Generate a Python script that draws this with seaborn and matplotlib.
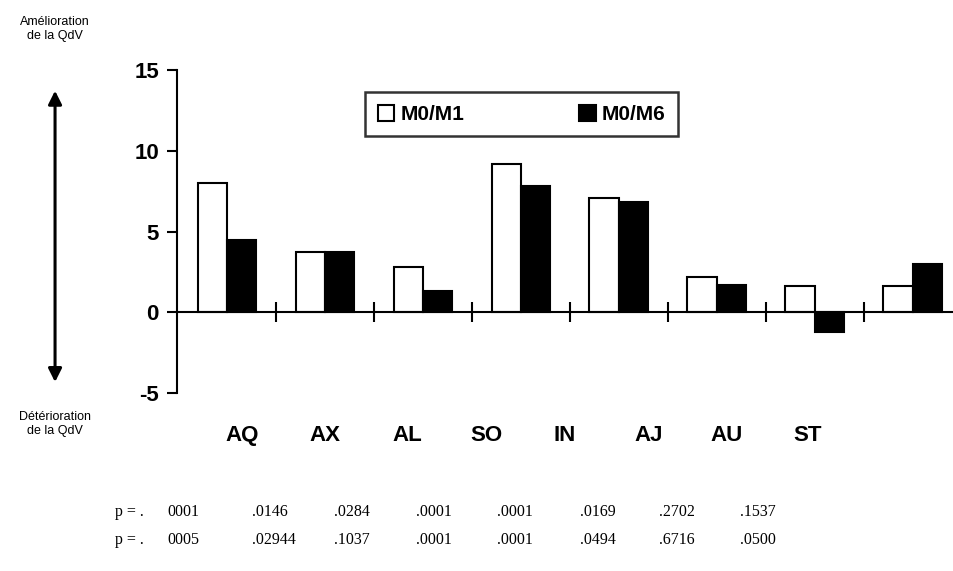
import numpy as np
import pandas as pd
import matplotlib
matplotlib.use('Agg')
import matplotlib.pyplot as plt
import seaborn as sns

# data
categories = ['AQ', 'AX', 'AL', 'SO', 'IN', 'AJ', 'AU', 'ST']
m0_m1 = [8.0, 3.75, 2.8, 9.2, 7.1, 2.2, 1.6, 1.6]
m0_m6 = [4.5, 3.75, 1.3, 7.8, 6.8, 1.7, -1.2, 3.0]
series = ['M0/M1', 'M0/M6']
p_row1 = ['0001', '.0146', '.0284', '.0001', '.0001', '.0169', '.2702', '.1537']
p_row2 = ['0005', '.02944', '.1037', '.0001', '.0001', '.0494', '.6716', '.0500']
y_ticks = [-5, 0, 5, 10, 15]

df = pd.DataFrame({
    'cat': categories * 2,
    'val': m0_m1 + m0_m6,
    'serie': [series[0]] * 8 + [series[1]] * 8,
})

sns.set_theme(style='ticks')
plt.rcParams['font.family'] = ['Liberation Sans', 'DejaVu Sans']
plt.rcParams['text.color'] = 'black'
plt.rcParams['xtick.color'] = 'black'
plt.rcParams['ytick.color'] = 'black'

bold_font = ['Liberation Sans', 'DejaVu Sans']

fig = plt.figure(figsize=(9.54, 5.71), dpi=100)
ax = fig.add_axes([0.1855, 0.3117, 0.8145, 0.5657])

sns.barplot(
    data=df, x='cat', y='val', hue='serie',
    palette=['white', 'black'], edgecolor='black', linewidth=1.5,
    width=0.6, ax=ax
)

ax.set_xlim(-0.51, 7.42)
ax.set_ylim(-5, 15)
ax.set_yticks(y_ticks)
ax.set_yticklabels([str(t) for t in y_ticks], fontsize=16, fontweight='bold',
                   family=bold_font)
ax.set_xlabel('')
ax.set_ylabel('')

# x axis drawn through zero with separators between groups
for s in ['top', 'right']:
    ax.spines[s].set_visible(False)
ax.spines['bottom'].set_position(('data', 0))
ax.spines['bottom'].set_linewidth(1.5)
ax.spines['left'].set_linewidth(1.5)
ax.spines['bottom'].set_color('black')
ax.spines['left'].set_color('black')
ax.set_xticks(np.arange(len(categories) - 1) + 0.5)
ax.set_xticklabels([])
ax.tick_params(axis='x', bottom=True, direction='inout', length=14, width=1.5, color='black')
ax.tick_params(axis='y', left=True, direction='out', length=7, width=1.5, color='black',
               pad=6, labelcolor='black')

# category names sit below the plot, not under the bars
label_pos = [0.15, 1.0, 1.84, 2.65, 3.45, 4.3, 5.1, 5.93]
for xp, c in zip(label_pos, categories):
    ax.text(xp, -7.6, c, ha='center', va='center', fontsize=16, fontweight='bold',
            family=bold_font, clip_on=False)

# legend
handles, labels = ax.get_legend_handles_labels()
ax.legend(handles, labels, ncol=2, loc='center', bbox_to_anchor=(0.547, 0.80),
          bbox_transform=fig.transFigure, frameon=True, fancybox=False,
          edgecolor='black', handlelength=0.8, handleheight=0.8,
          handletextpad=0.3, columnspacing=5.5, borderpad=0.6,
          prop={'family': bold_font, 'weight': 'bold', 'size': 15})
ax.get_legend().get_frame().set_linewidth(1.8)

# QdV arrow on the left
fig.patches.append(matplotlib.patches.FancyArrowPatch(
    (0.0577, 0.326), (0.0577, 0.846), transform=fig.transFigure,
    arrowstyle='<|-|>', mutation_scale=20, lw=2.2, color='black'))
fig.text(0.0577, 0.949, 'Amélioration\nde la QdV', ha='center', va='center',
         fontsize=9, linespacing=1.2)
fig.text(0.0577, 0.2575, 'Détérioration\nde la QdV', ha='center', va='center',
         fontsize=9, linespacing=1.2)

# p values
p_x = [167, 252, 334, 416, 497, 580, 659, 740]
for row, yy in zip([p_row1, p_row2], [0.103, 0.054]):
    fig.text(115 / 954, yy, 'p = .', ha='left', va='center', fontsize=11.5,
             family='Liberation Serif')
    for xx, v in zip(p_x, row):
        fig.text(xx / 954, yy, v, ha='left', va='center', fontsize=11.5,
                 family='Liberation Serif')

plt.savefig('out.png', dpi=100)
